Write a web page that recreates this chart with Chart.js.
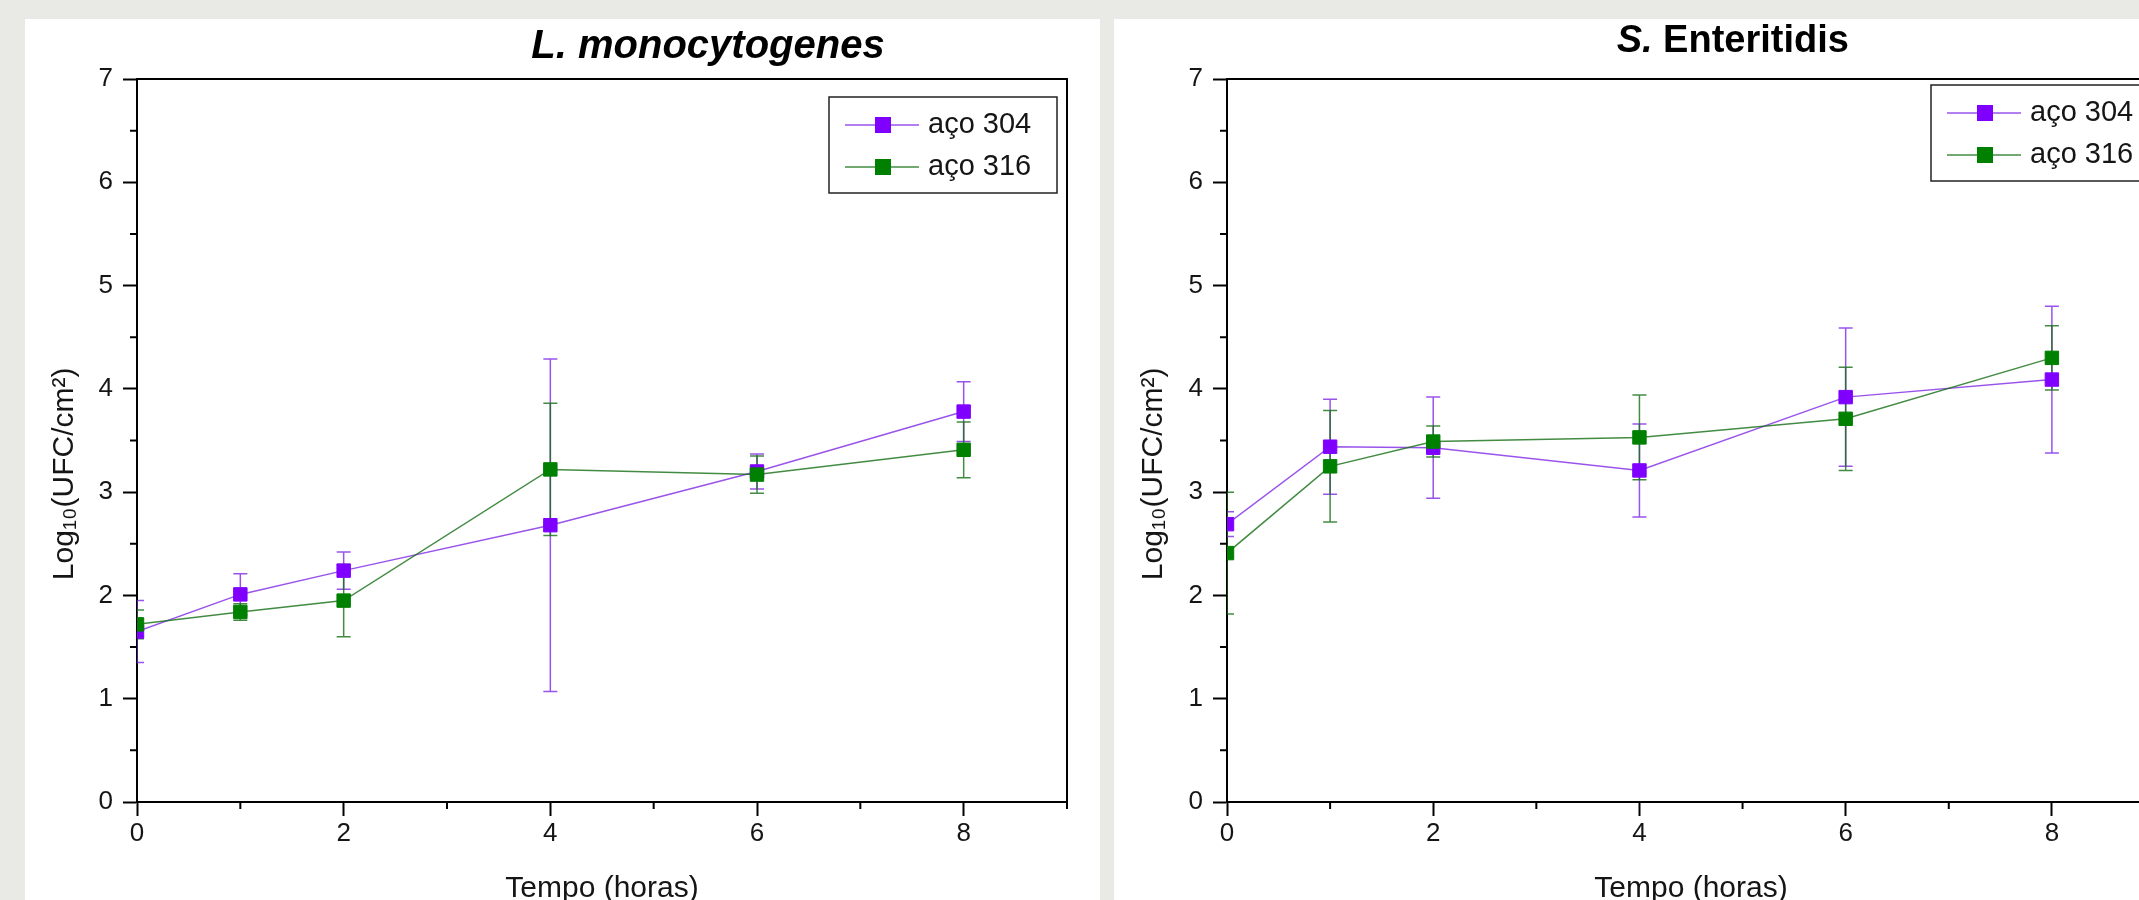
<!DOCTYPE html>
<html>
<head>
<meta charset="utf-8">
<title>Log10(UFC/cm2) x Tempo</title>
<script src="https://cdn.jsdelivr.net/npm/chart.js@4.4.1/dist/chart.umd.min.js"></script>
<style>
  html, body { margin: 0; padding: 0; width: 2139px; height: 900px; overflow: hidden; background: #e9eae6; }
  .panel { position: absolute; top: 19px; height: 881px; background: #fff; overflow: hidden; }
  .panel--left { left: 25px; width: 1075px; }
  .panel--right { left: 1114px; width: 1025px; }
  canvas { display: block; }
</style>
</head>
<body>
<div class="panel panel--left"><canvas id="chartListeria" width="1075" height="900"></canvas></div>
<div class="panel panel--right"><canvas id="chartSalmonella" width="1075" height="900"></canvas></div>
<script>
// sampling times (hours)
const hours = [0, 1, 2, 4, 6, 8];
const xTicks = [0, 2, 4, 6, 8];
const yTicks = [0, 1, 2, 3, 4, 5, 6, 7];
const seriesNames = ['aço 304', 'aço 316'];

// L. monocytogenes
const listeria304 = [1.65, 2.01, 2.24, 2.68, 3.20, 3.78];
const listeria304Err = [0.30, 0.20, 0.18, 1.61, 0.17, 0.29];
const listeria316 = [1.72, 1.84, 1.95, 3.22, 3.17, 3.41];
const listeria316Err = [0.14, 0.08, 0.35, 0.64, 0.18, 0.27];

// S. Enteritidis
const salmonella304 = [2.69, 3.44, 3.43, 3.21, 3.92, 4.09];
const salmonella304Err = [0.12, 0.46, 0.49, 0.45, 0.67, 0.71];
const salmonella316 = [2.41, 3.25, 3.49, 3.53, 3.71, 4.30];
const salmonella316Err = [0.59, 0.54, 0.15, 0.41, 0.50, 0.31];

const FONT = '"Liberation Sans", Arial, sans-serif';
const AXIS = '#000';
const TEXT = '#151515';
const PURPLE = 'rgb(128, 0, 255)';
const GREEN = 'rgb(0, 128, 0)';
const PURPLE_LINE = 'rgba(128, 40, 230, 0.8)';
const GREEN_LINE = 'rgba(20, 110, 20, 0.8)';

// vertical error bars, drawn under lines and markers
const errorBars = {
  id: 'errorBars',
  beforeDatasetsDraw(chart) {
    const { ctx, chartArea: a, scales: { x, y } } = chart;
    ctx.save();
    ctx.beginPath();
    ctx.rect(a.left, a.top, a.width, a.height);
    ctx.clip();
    chart.data.datasets.forEach(ds => {
      ctx.strokeStyle = ds.borderColor;
      ctx.lineWidth = 1.5;
      ds.data.forEach((p, j) => {
        const px = x.getPixelForValue(p.x);
        const top = y.getPixelForValue(p.y + ds.errors[j]);
        const bottom = y.getPixelForValue(p.y - ds.errors[j]);
        ctx.beginPath();
        ctx.moveTo(px, top);
        ctx.lineTo(px, bottom);
        ctx.moveTo(px - 7, top);
        ctx.lineTo(px + 7, top);
        ctx.moveTo(px - 7, bottom);
        ctx.lineTo(px + 7, bottom);
        ctx.stroke();
      });
    });
    ctx.restore();
  },
};

// top/right frame lines and the short minor ticks
const frame = {
  id: 'frame',
  afterDraw(chart) {
    const { ctx, chartArea: a, scales: { x, y } } = chart;
    ctx.save();
    ctx.strokeStyle = AXIS;
    ctx.lineWidth = 2;
    ctx.beginPath();
    ctx.moveTo(a.left, a.top);
    ctx.lineTo(a.right, a.top);
    ctx.lineTo(a.right, a.bottom);
    x.ticks.forEach(t => {
      if (!xTicks.includes(t.value)) {
        const px = x.getPixelForValue(t.value);
        ctx.moveTo(px, a.bottom);
        ctx.lineTo(px, a.bottom + 7);
      }
    });
    y.ticks.forEach(t => {
      if (!yTicks.includes(t.value)) {
        const py = y.getPixelForValue(t.value);
        ctx.moveTo(a.left, py);
        ctx.lineTo(a.left - 7, py);
      }
    });
    ctx.stroke();
    ctx.restore();
  },
};

// Origin style legend: framed box, line-marker-line sample
const boxLegend = {
  id: 'boxLegend',
  afterDraw(chart, args, opts) {
    const { ctx, chartArea: a } = chart;
    const w = 228, h = 96;
    const left = a.right - opts.right - w;
    const top = a.top + opts.top;
    ctx.save();
    ctx.fillStyle = '#fff';
    ctx.fillRect(left, top, w, h);
    ctx.strokeStyle = '#222';
    ctx.lineWidth = 1.5;
    ctx.strokeRect(left, top, w, h);
    chart.data.datasets.forEach((ds, i) => {
      const cy = top + opts.rows[i];
      ctx.strokeStyle = ds.borderColor;
      ctx.lineWidth = 1.5;
      ctx.beginPath();
      ctx.moveTo(left + 16, cy);
      ctx.lineTo(left + 90, cy);
      ctx.stroke();
      ctx.fillStyle = ds.pointBackgroundColor;
      ctx.fillRect(left + 46, cy - 8, 16, 16);
      ctx.fillStyle = TEXT;
      ctx.font = '29px ' + FONT;
      ctx.textBaseline = 'middle';
      ctx.fillText(ds.label, left + 99, cy);
    });
    ctx.restore();
  },
};

// panel title, with mixed italic / upright parts
const panelTitle = {
  id: 'panelTitle',
  afterDraw(chart, args, opts) {
    const { ctx, chartArea: a } = chart;
    ctx.save();
    ctx.fillStyle = '#000';
    ctx.textBaseline = 'alphabetic';
    const fonts = opts.parts.map(p => p.style + ' bold ' + opts.size + 'px ' + FONT);
    const widths = opts.parts.map((p, i) => {
      ctx.font = fonts[i];
      return ctx.measureText(p.text).width;
    });
    let x = a.left + a.width * opts.center - widths.reduce((s, v) => s + v, 0) / 2;
    opts.parts.forEach((p, i) => {
      ctx.font = fonts[i];
      ctx.fillText(p.text, x, a.top + opts.baseline);
      x += widths[i];
    });
    ctx.restore();
  },
};

function series(label, values, errors, color, lineColor, order) {
  return {
    label,
    order,
    data: hours.map((h, i) => ({ x: h, y: values[i] })),
    errors,
    borderColor: lineColor,
    borderWidth: 1.5,
    tension: 0,
    fill: false,
    pointStyle: 'rect',
    pointRadius: 9.5,
    pointHoverRadius: 9.5,
    pointBackgroundColor: color,
    pointBorderColor: color,
    pointBorderWidth: 1,
  };
}

function buildChart(canvasId, datasets, yAxisWidth, padRight, title, legend) {
  return new Chart(document.getElementById(canvasId), {
    type: 'line',
    data: { datasets },
    options: {
      responsive: false,
      animation: false,
      events: [],
      layout: { padding: { top: 60, right: padRight, bottom: 0, left: 0 } },
      plugins: {
        legend: { display: false },
        tooltip: { enabled: false },
        title: { display: false },
        panelTitle: title,
        boxLegend: legend,
      },
      scales: {
        x: {
          type: 'linear',
          min: 0,
          max: 9,
          afterFit: s => { s.height = 117; },
          border: { display: true, color: AXIS, width: 2 },
          grid: {
            drawOnChartArea: false,
            drawTicks: true,
            tickLength: 14,
            tickWidth: 2,
            tickColor: c => (c.tick && xTicks.includes(c.tick.value) ? AXIS : 'rgba(0,0,0,0)'),
          },
          ticks: {
            stepSize: 1,
            autoSkip: false,
            maxRotation: 0,
            padding: 2,
            color: TEXT,
            font: { family: FONT, size: 26 },
            callback: v => (xTicks.includes(v) ? v : ''),
          },
          title: {
            display: true,
            text: 'Tempo (horas)',
            color: TEXT,
            font: { family: FONT, size: 30 },
            padding: { top: 0, bottom: 12 },
          },
        },
        y: {
          type: 'linear',
          min: 0,
          max: 7,
          afterFit: s => { s.width = yAxisWidth; },
          border: { display: true, color: AXIS, width: 2 },
          grid: {
            drawOnChartArea: false,
            drawTicks: true,
            tickLength: 14,
            tickWidth: 2,
            tickColor: c => (c.tick && yTicks.includes(c.tick.value) ? AXIS : 'rgba(0,0,0,0)'),
          },
          ticks: {
            stepSize: 0.5,
            autoSkip: false,
            padding: 10,
            color: TEXT,
            font: { family: FONT, size: 26 },
            callback: v => (yTicks.includes(v) ? v : ''),
          },
          title: {
            display: true,
            text: 'Log₁₀(UFC/cm²)        ',
            color: TEXT,
            font: { family: FONT, size: 30 },
            padding: { top: 22, bottom: 0 },
          },
        },
      },
    },
    plugins: [errorBars, frame, boxLegend, panelTitle],
  });
}

buildChart(
  'chartListeria',
  [
    series(seriesNames[0], listeria304, listeria304Err, PURPLE, PURPLE_LINE, 1),
    series(seriesNames[1], listeria316, listeria316Err, GREEN, GREEN_LINE, 0),
  ],
  112,
  33,
  { size: 40, center: 0.614, baseline: -21, parts: [{ text: 'L. monocytogenes', style: 'italic' }] },
  { right: 10, top: 18, rows: [28, 70] }
);

buildChart(
  'chartSalmonella',
  [
    series(seriesNames[0], salmonella304, salmonella304Err, PURPLE, PURPLE_LINE, 1),
    series(seriesNames[1], salmonella316, salmonella316Err, GREEN, GREEN_LINE, 0),
  ],
  113,
  34,
  { size: 38, center: 0.545, baseline: -27, parts: [{ text: 'S.', style: 'italic' }, { text: ' Enteritidis', style: 'normal' }] },
  { right: -4, top: 6, rows: [28, 70] }
);
</script>
</body>
</html>
